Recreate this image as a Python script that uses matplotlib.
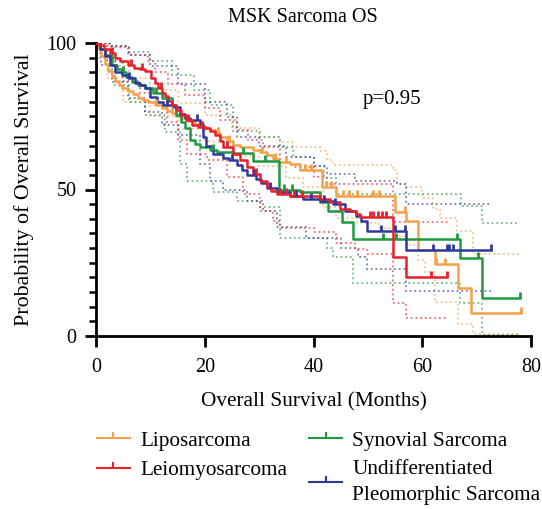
import numpy as np
import matplotlib
matplotlib.use("Agg")
import matplotlib.pyplot as plt
from matplotlib.path import Path
from matplotlib.lines import Line2D

plt.rcParams['font.family'] = ['Liberation Serif', 'DejaVu Serif']

# ---------------- data ----------------
# Liposarcoma
lipo_t = [0, 0.5, 1.0, 1.6, 2.2, 2.9, 3.5, 4.2, 4.8, 5.9, 6.8, 7.8, 8.7, 9.6, 10.8, 12.1, 13.0, 13.9, 14.8, 15.7,
          17.0, 18.2, 19.0, 20.0, 21.0, 21.9, 22.8, 24.0, 25.2, 26.5, 28.9, 30.2, 31.4, 32.5, 33.4, 35.6, 37.5,
          41.5, 44.2, 55.0, 57.1, 59.2, 62.3, 66.5, 69.0]
lipo_s = [100, 98, 95.5, 93, 90.5, 88.5, 87, 85.5, 84.5, 83.5, 82.5, 81.2, 80.5, 80, 79, 77.7, 76.8, 76, 75.2, 74.5,
          73.5, 72.4, 71.6, 71, 70.2, 69.4, 68, 66.5, 65.2, 64.4, 63.6, 62.8, 61.8, 60.5, 59.4, 58.6, 56.5,
          50.8, 47.8, 42.3, 39.4, 29.5, 24.5, 16.5, 8.0]
lipo_end = 78.2
lipo_cens = [11, 14, 22.5, 24.5, 30.5, 33, 35, 38.5, 39.5, 42.3, 43.3, 45.5, 46.5, 48, 51, 52, 56.8, 62.6, 64.2, 78.2]
lipo_hi_t = [0, 3, 6, 10, 15, 20, 25, 30, 33.8, 36.3, 41.2, 42.4, 43.5, 54.7, 55.3, 57.1, 60, 62, 63.2, 66.3, 69.4]
lipo_hi_s = [100, 92, 88, 84, 79.5, 75.5, 71, 68, 66.2, 64.5, 63, 60, 58.5, 56.5, 52, 51, 47, 43.2, 40.4, 35.8, 28]
lipo_lo_t = [0, 2, 5, 10, 15, 20, 25, 30, 35, 38, 41.8, 44.2, 48, 52, 55, 57.1, 59.2, 60.5, 62.3, 66.6, 69.4]
lipo_lo_s = [100, 88, 80, 75, 70.5, 66.5, 61.5, 58, 54, 51, 44, 40.4, 38.5, 37, 34, 31, 26, 22, 11.5, 4, 0.6]

# Leiomyosarcoma
leio_t = [0, 0.6, 1.5, 2.5, 3.5, 4.5, 5.9, 7.0, 8.0, 9.0, 10.2, 10.8, 11.4, 12.1, 12.7, 13.3, 13.9, 14.8, 15.7,
          16.6, 17.6, 18.8, 20.0, 21.0, 21.9, 22.8, 23.4, 25.2, 26.5, 27.7, 28.9, 30.1, 31.4, 32.2, 33.2, 35.7,
          41.2, 43.0, 44.9, 46.8, 47.9, 48.5, 54.7, 57.1]
leio_s = [100, 99.4, 98, 96.5, 95, 93.8, 92.6, 91.5, 91, 90.4, 88, 86.5, 84.6, 83, 81.8, 80.3, 78.9, 77.2, 75.4,
          73.8, 72, 71.4, 70.9, 69.8, 68.6, 66.5, 64.4, 62.1, 59.9, 57.6, 55.3, 53, 50.7, 49.5, 48.4, 47.9,
          46.8, 45.7, 43.4, 42.8, 41.8, 40.6, 27, 20]
leio_end = 64.5
leio_cens = [3, 6.5, 8.5, 12, 17, 19.5, 24, 29.5, 33.8, 35, 36.5, 37.8, 50.3, 51, 51.8, 52.6, 53.3, 61.7, 64.5]
leio_hi_t = [0, 2.3, 5.9, 9.6, 10.8, 13.3, 16.4, 20, 22.8, 25.9, 28, 30.8, 33.8, 36.3, 40, 42.4, 54.7]
leio_hi_s = [100, 98.5, 96, 94, 90, 86, 82.3, 77.7, 73.6, 70.2, 67, 64.4, 59, 57.6, 54.2, 51.9, 38.8]
leio_lo_t = [0, 2, 5, 8, 10, 13, 15, 16.7, 20.4, 24, 27.1, 30.1, 32.6, 33.8, 40, 44.2, 47.6, 49.8, 54.7, 57.1]
leio_lo_s = [100, 94, 87, 83, 80, 73, 67, 62, 60, 54.2, 48.5, 42.8, 39.4, 37, 35.5, 31.6, 29.8, 28, 11.4, 6.3]

# Synovial Sarcoma
syn_t = [0, 0.8, 1.7, 2.9, 3.8, 4.7, 5.6, 6.6, 7.8, 9.0, 10.5, 12.1, 13.9, 14.8, 15.7, 16.4, 17.3, 18.2, 19.1,
         21.0, 22.2, 25.2, 28.9, 33.6, 37.5, 41.2, 42.7, 45.2, 47.3, 66.9, 70.9]
syn_s = [100, 98, 96, 92.6, 91.2, 90.2, 88.5, 86.8, 85.8, 84.6, 83, 81.2, 78.9, 75.5, 73, 70.9, 67, 65.5, 64.5,
         63.4, 62.8, 62.3, 59.6, 50, 49, 45.7, 42.8, 38.8, 33, 26.5, 13.1]
syn_end = 78.0
syn_cens = [5, 11, 21.5, 27, 31, 34.5, 36, 52.8, 55.2, 66.3, 70.3, 78]
syn_hi_t = [0, 3, 6, 10, 14, 18, 21, 25.2, 30.1, 33.8, 36.3, 40, 42, 44.2, 67.2, 70.9]
syn_hi_s = [100, 99, 97, 94, 89, 84, 79, 70, 68, 64.4, 61, 58, 54, 48.5, 44.5, 38.5]
syn_hi_end = 77.5
syn_lo_t = [0, 0.7, 3.5, 6, 9, 12.7, 15.5, 16.7, 21.6, 25.9, 30.1, 33.8, 42.4, 43.5, 47.3, 66.9, 70.9]
syn_lo_s = [100, 95, 85.7, 80, 75.4, 69.6, 58.8, 53, 49.1, 46.2, 43.9, 33.6, 30.2, 27, 18.2, 11.4, 0.5]

# Undifferentiated Pleomorphic Sarcoma
ups_t = [0, 0.8, 1.7, 2.6, 3.5, 4.7, 5.9, 7.2, 8.1, 9.0, 9.9, 11.2, 12.4, 14.2, 15.4, 16.4, 17.3, 19.1, 19.7,
         20.3, 21.6, 23.4, 24.5, 25.9, 26.8, 27.7, 29.5, 30.3, 31.4, 33.2, 35.7, 38.1, 41.2, 43.6, 45.8, 47.9,
         48.8, 49.8, 57.1]
ups_s = [100, 98, 95.5, 92.5, 90.2, 89, 88, 86.5, 85.5, 84.6, 81.6, 79.9, 78.8, 78, 75.9, 74.5, 73.6, 72.5, 67.9,
         65, 62.2, 60.8, 60, 58.5, 56.5, 54.8, 53.5, 52.3, 50.5, 49, 47.8, 46.8, 46, 45, 42.8, 41.1,
         39.4, 36, 29.5]
ups_end = 72.7
ups_cens = [6, 13, 18.5, 25, 29, 32, 36.8, 39.5, 42, 44, 52.5, 55, 56.8, 62, 64.5, 64.9, 65.7, 72.7]
ups_hi_t = [0, 3, 6, 10, 15, 20, 24, 26, 30, 35, 40, 42.4, 47.6, 55.3, 57.1]
ups_hi_s = [100, 99, 96, 92, 86, 80, 74.8, 68, 65, 61, 58, 55.3, 53, 51.9, 45]
ups_lo_t = [0, 1, 2.9, 5.9, 9, 12.1, 15.1, 19.1, 21, 23.4, 27.7, 30.8, 33.2, 38.7, 45, 48.2, 49.8, 57.1]
ups_lo_s = [100, 92.5, 86.8, 81.2, 76.6, 72, 68.6, 58.8, 53, 49.7, 46.2, 42.8, 37.1, 33.6, 30, 26.8, 22.8, 15.4]

labels = ["Liposarcoma", "Leiomyosarcoma", "Synovial Sarcoma", "Undifferentiated\nPleomorphic Sarcoma"]
colors = ["#F5A04A", "#E8202A", "#1F9A40", "#2E3A9A"]
p_text = "p=0.95"

# ---------------- figure ----------------
fig = plt.figure(figsize=(5.42, 5.09), dpi=100)
ax = fig.add_axes([96 / 542, 1 - 336 / 509, 435 / 542, 293 / 509])

tick_path = Path([(0, 0), (0, 1)], [Path.MOVETO, Path.LINETO])


def stepline(t, s, end):
    tt = list(t) + [end]
    ss = list(s) + [s[-1]]
    return tt, ss


groups = [
    (lipo_t, lipo_s, lipo_end, lipo_cens, lipo_hi_t, lipo_hi_s, lipo_end, lipo_lo_t, lipo_lo_s, lipo_end, colors[0]),
    (syn_t, syn_s, syn_end, syn_cens, syn_hi_t, syn_hi_s, syn_hi_end, syn_lo_t, syn_lo_s, syn_end, colors[2]),
    (ups_t, ups_s, ups_end, ups_cens, ups_hi_t, ups_hi_s, ups_end, ups_lo_t, ups_lo_s, ups_end, colors[3]),
    (leio_t, leio_s, leio_end, leio_cens, leio_hi_t, leio_hi_s, leio_end, leio_lo_t, leio_lo_s, leio_end, colors[1]),
]

# confidence bands (dotted)
for (t, s, e, c, ht, hs, he, lt, ls_, le, col) in groups:
    for (xt, xs, xe) in [(ht, hs, he), (lt, ls_, le)]:
        a, b = stepline(xt, xs, xe)
        ln, = ax.step(a, b, where='post', color=col, lw=1.5, alpha=0.65,
                      linestyle=(0, (0.05, 2.2)), zorder=2)
        ln.set_dash_capstyle('round')

# survival curves with censor marks
for (t, s, e, c, ht, hs, he, lt, ls_, le, col) in groups:
    a, b = stepline(t, s, e)
    ax.step(a, b, where='post', color=col, lw=1.8, zorder=3)
    idx = np.searchsorted(np.array(t), np.array(c), side='right') - 1
    cy = np.array(s)[idx]
    ax.plot(c, cy, linestyle='none', marker=tick_path, markersize=9,
            markeredgewidth=2.0, color=col, zorder=4)

ax.set_xlim(0, 80)
ax.set_ylim(0, 100)
ax.set_xticks([0, 20, 40, 60, 80])
ax.set_yticks([0, 50, 100])
ax.set_yticks(np.arange(0, 101, 5), minor=True)
for sp in ['top', 'right']:
    ax.spines[sp].set_visible(False)
for sp in ['left', 'bottom']:
    ax.spines[sp].set_linewidth(2.0)
ax.tick_params(axis='both', which='major', length=8, width=2.0, labelsize=14.5)
ax.tick_params(axis='x', which='major', pad=8)
ax.tick_params(axis='y', which='major', pad=6)
ax.tick_params(axis='y', which='minor', length=5, width=1.8)
ax.tick_params(axis='x', which='minor', bottom=False)

ax.set_xlabel("Overall Survival (Months)", fontsize=15.3, labelpad=11)
ax.set_ylabel("Probability of Overall Survival", fontsize=15.8, labelpad=9)
ax.set_title("MSK Sarcoma OS", fontsize=14.5, pad=15, x=0.476)
ax.text(49, 79.3, p_text, fontsize=15)

handles = [Line2D([], [], color=col, lw=1.5, marker=tick_path, markersize=9, markeredgewidth=1.5)
           for col in colors]
leg = fig.legend(handles, labels, ncol=2, loc='upper left', bbox_to_anchor=(97 / 542, 1 - 431 / 509),
                 frameon=False, fontsize=15.3, handlelength=1.55, handletextpad=0.47, columnspacing=1.05,
                 labelspacing=0.44, borderaxespad=0, borderpad=0)
for txt in leg.get_texts():
    txt.set_linespacing(1.5)

fig.savefig("out.png", dpi=100)
